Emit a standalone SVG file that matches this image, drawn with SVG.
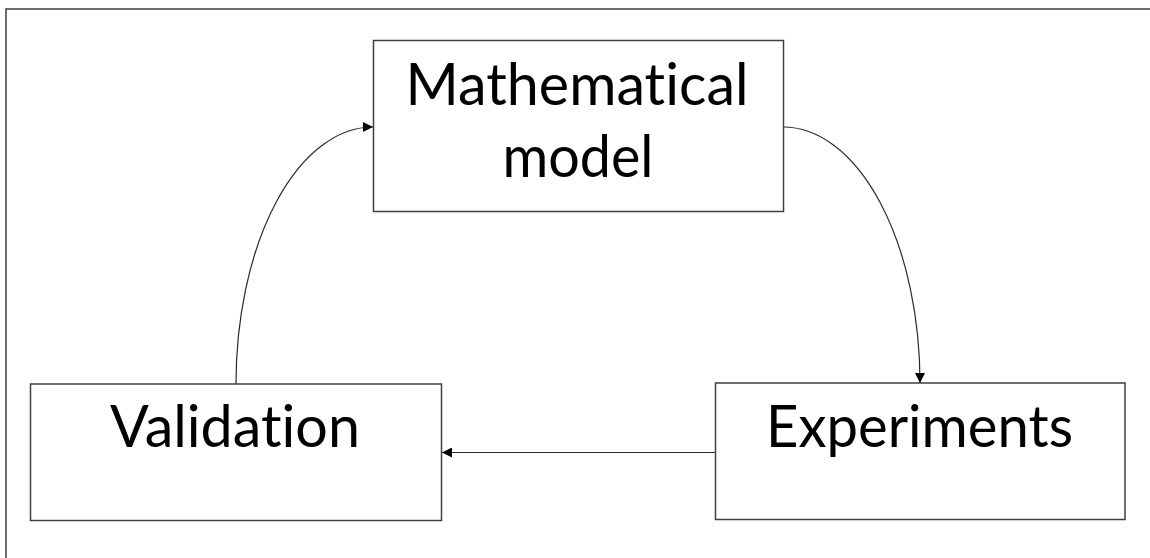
<svg xmlns="http://www.w3.org/2000/svg" width="1150" height="558" viewBox="0 0 1150 558">
<style>
.frame{fill:none;stroke:#404040;stroke-width:1.5}
.box{fill:#fff;stroke:#404040;stroke-width:1.5}
.lbl{font-family:Lato,"Open Sans","Liberation Sans",sans-serif;font-size:58px;fill:#000;text-anchor:middle;font-variant-ligatures:none;font-feature-settings:"liga" 0,"clig" 0}
.conn{fill:none;stroke:#2a2a2a;stroke-width:1.2}
</style>
<defs>
<marker id="ah" viewBox="0 0 10 10" refX="10" refY="5" markerWidth="11" markerHeight="10" markerUnits="userSpaceOnUse" orient="auto">
<path d="M0,0 L10,5 L0,10 z" fill="#000"/>
</marker>
</defs>
<rect x="0" y="0" width="1150" height="558" fill="#fff"/>
<rect class="frame" x="6" y="9" width="1160" height="570"/>
<g id="connectors">
<path class="conn" d="M236,384 A137,257 0 0 1 373,127" marker-end="url(#ah)"/>
<path class="conn" d="M783,127 A137,256 0 0 1 920,383" marker-end="url(#ah)"/>
<path class="conn" d="M715,452.5 L442,452.5" marker-end="url(#ah)"/>
</g>
<g id="math">
<rect class="box" x="373.5" y="40.5" width="410" height="171"/>
<text class="lbl" x="577" y="105" textLength="343" lengthAdjust="spacingAndGlyphs">Mathematical</text>
<text class="lbl" x="578" y="177" textLength="151" lengthAdjust="spacingAndGlyphs">model</text>
</g>
<g id="validation">
<rect class="box" x="30.5" y="384" width="411" height="136.5"/>
<text class="lbl" x="235" y="447" textLength="250" lengthAdjust="spacingAndGlyphs">Validation</text>
</g>
<g id="experiments">
<rect class="box" x="715.5" y="383" width="409.5" height="136.5"/>
<text class="lbl" x="919.5" y="447" textLength="307" lengthAdjust="spacingAndGlyphs">Experiments</text>
</g>
</svg>
